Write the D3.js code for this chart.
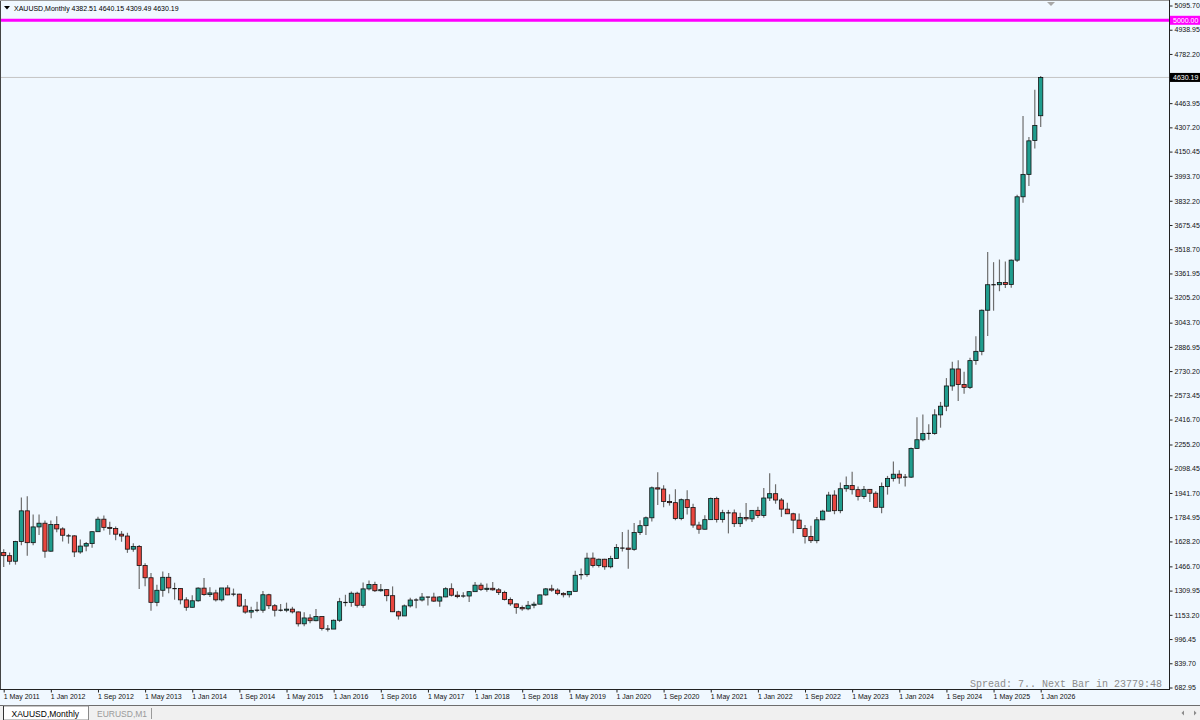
<!DOCTYPE html>
<html>
<head>
<meta charset="utf-8">
<script src="https://cdn.jsdelivr.net/npm/d3@7"></script>
<style>
  html, body { margin: 0; padding: 0; background: #f0f8ff; }
  svg { display: block; }
</style>
</head>
<body>
<div id="chart"></div>
<script>
// monthly XAUUSD bars, May 2011 .. Jan 2026
var months = d3.timeMonth.range(new Date(2011, 4, 1), new Date(2026, 1, 1));

var open = [
  1556,1536,1500,1628,1826,1620,1722,1746,
  1565,1737,1709,1668,1664,1560,1598,1614,1691,1772,1719,1712,
  1675,1663,1578,1596,1472,1393,1234,1312,1396,1327,1323,1250,
  1202,1244,1326,1284,1295,1250,1327,1282,1287,1210,1171,1182,
  1183,1283,1212,1183,1183,1190,1172,1095,1133,1115,1142,1065,
  1061,1118,1238,1233,1293,1215,1321,1350,1309,1316,1277,1173,
  1146,1211,1249,1249,1268,1268,1242,1269,1322,1280,1271,1275,
  1303,1345,1318,1325,1315,1298,1253,1224,1201,1192,1215,1222,
  1282,1321,1313,1292,1283,1305,1409,1413,1520,1472,1513,1464,
  1517,1589,1585,1577,1686,1730,1781,1975,1967,1886,1879,1776,
  1898,1847,1734,1707,1769,1906,1770,1814,1813,1743,1783,1774,
  1829,1796,1909,1937,1896,1837,1807,1766,1711,1660,1633,1768,
  1824,1928,1827,1969,1990,1963,1919,1965,1940,1849,1983,2036,
  2063,2039,2044,2230,2286,2327,2327,2447,2503,2634,2744,2643,
  2625,2798,2858,3124,3289,3289,3303,3290,3448,3858,4003,4222,
  4382.51
];
var high = [
  1577,1556,1632,1913,1921,1803,1803,1764,
  1764,1791,1720,1677,1668,1640,1625,1692,1788,1796,1755,1725,
  1695,1684,1617,1605,1487,1424,1348,1434,1424,1361,1325,1267,
  1280,1332,1392,1331,1315,1326,1345,1323,1290,1255,1205,1238,
  1307,1290,1224,1224,1232,1205,1175,1170,1157,1191,1142,1088,
  1123,1263,1283,1304,1303,1362,1375,1367,1352,1318,1337,1180,
  1220,1264,1261,1295,1270,1296,1274,1331,1357,1306,1299,1307,
  1366,1361,1356,1365,1326,1309,1266,1227,1214,1243,1237,1284,
  1326,1347,1325,1300,1306,1439,1453,1555,1557,1518,1516,1535,
  1611,1689,1704,1748,1765,1789,1984,2075,1992,1933,1966,1906,
  1959,1872,1755,1798,1913,1917,1833,1832,1834,1814,1877,1831,
  1853,1974,2070,1998,1909,1879,1814,1808,1735,1730,1786,1833,
  1949,1959,2009,2048,2079,1983,1987,1966,1953,2009,2052,2146,
  2088,2065,2236,2431,2450,2387,2483,2531,2685,2790,2801,2726,
  2817,2956,3128,3500,3435,3452,3439,3453,3871,4381,4245,4550,
  4640.15
];
var low = [
  1462,1478,1478,1603,1535,1603,1669,1523,
  1562,1687,1627,1614,1527,1548,1564,1587,1690,1698,1672,1635,
  1626,1554,1562,1321,1338,1180,1208,1270,1292,1251,1221,1180,
  1200,1238,1277,1268,1240,1240,1280,1273,1205,1160,1131,1170,
  1167,1191,1142,1175,1170,1162,1077,1080,1098,1111,1052,1046,
  1061,1107,1208,1206,1200,1199,1310,1301,1302,1241,1171,1122,
  1146,1200,1195,1240,1214,1236,1205,1267,1272,1261,1264,1236,
  1303,1307,1303,1309,1282,1246,1211,1160,1180,1183,1196,1221,
  1276,1303,1280,1266,1266,1305,1381,1400,1459,1459,1445,1454,
  1517,1563,1451,1567,1670,1670,1757,1863,1849,1860,1765,1765,
  1802,1717,1677,1705,1767,1750,1750,1680,1721,1722,1758,1753,
  1780,1782,1890,1872,1787,1805,1681,1709,1615,1618,1616,1765,
  1823,1804,1810,1949,1932,1893,1903,1884,1846,1810,1931,2016,
  2001,1984,2039,2228,2277,2286,2318,2364,2471,2603,2537,2583,
  2614,2772,2833,2957,3121,3247,3268,3269,3436,3820,3928,4170,
  4309.49
];
var close = [
  1536,1500,1628,1826,1620,1722,1746,1565,
  1737,1709,1668,1664,1560,1598,1614,1691,1772,1719,1712,1675,
  1663,1578,1596,1472,1393,1234,1312,1396,1327,1323,1250,1202,
  1244,1326,1284,1295,1250,1327,1282,1287,1210,1171,1182,1183,
  1283,1212,1183,1183,1190,1172,1095,1133,1115,1142,1065,1061,
  1118,1238,1233,1293,1215,1321,1350,1309,1316,1277,1173,1146,
  1211,1249,1249,1268,1268,1242,1269,1322,1280,1271,1275,1303,
  1345,1318,1325,1315,1298,1253,1224,1201,1192,1215,1222,1282,
  1321,1313,1292,1283,1305,1409,1413,1520,1472,1513,1464,1517,
  1589,1585,1577,1686,1730,1781,1975,1967,1886,1879,1776,1898,
  1847,1734,1707,1769,1906,1770,1814,1813,1743,1783,1774,1829,
  1796,1909,1937,1896,1837,1807,1766,1711,1660,1633,1768,1824,
  1928,1827,1969,1990,1963,1919,1965,1940,1849,1983,2036,2063,
  2039,2044,2230,2286,2327,2327,2447,2503,2634,2744,2643,2625,
  2798,2858,3124,3289,3289,3303,3290,3448,3858,4003,4220,4320,
  4630.19
];

var yTicks = [5095.70, 4938.95, 4782.20, 4463.95, 4307.20, 4150.45, 3993.70, 3832.20,
  3675.45, 3518.70, 3361.95, 3205.20, 3043.70, 2886.95, 2730.20, 2573.45, 2416.70,
  2255.20, 2098.45, 1941.70, 1784.95, 1628.20, 1466.70, 1309.95, 1153.20, 996.45,
  839.70, 682.95];
var xTickLabels = ["1 May 2011", "1 Jan 2012", "1 Sep 2012", "1 May 2013", "1 Jan 2014",
  "1 Sep 2014", "1 May 2015", "1 Jan 2016", "1 Sep 2016", "1 May 2017", "1 Jan 2018",
  "1 Sep 2018", "1 May 2019", "1 Jan 2020", "1 Sep 2020", "1 May 2021", "1 Jan 2022",
  "1 Sep 2022", "1 May 2023", "1 Jan 2024", "1 Sep 2024", "1 May 2025", "1 Jan 2026"];
var levelLine = 5000.00;
var lastPrice = 4630.19;

var W = 1200, H = 720;
var plotR = 1169, plotB = 689;
var font = "'Liberation Sans', Arial, sans-serif";

var svg = d3.select("#chart").append("svg")
    .attr("width", W)
    .attr("height", H);

svg.append("rect").attr("width", W).attr("height", H).attr("fill", "#f0f8ff");

var x = d3.scaleLinear().domain([0, months.length - 1]).range([3.7, 1040.7]);
var y = d3.scaleLinear().domain([682.95, 5095.70]).range([687.5, 5.5]);

svg.append("clipPath").attr("id", "plotclip")
  .append("rect").attr("x", 1).attr("y", 1).attr("width", plotR - 1).attr("height", plotB - 1);

var plot = svg.append("g").attr("clip-path", "url(#plotclip)");

// price lines
plot.append("line")
    .attr("x1", 0).attr("x2", plotR)
    .attr("y1", y(lastPrice)).attr("y2", y(lastPrice))
    .attr("stroke", "#c4c4c4").attr("stroke-width", 1);
plot.append("line")
    .attr("x1", 0).attr("x2", plotR)
    .attr("y1", y(levelLine)).attr("y2", y(levelLine))
    .attr("stroke", "#ff00ff").attr("stroke-width", 3);

// candles
var bars = months.map(function (m, i) {
    return {i: i, o: open[i], h: high[i], l: low[i], c: close[i]};
});

var g = plot.selectAll("g.bar").data(bars).enter().append("g").attr("class", "bar");

g.append("line")
    .attr("x1", function (d) { return x(d.i); })
    .attr("x2", function (d) { return x(d.i); })
    .attr("y1", function (d) { return y(d.h); })
    .attr("y2", function (d) { return y(d.l); })
    .attr("stroke", "#6e6e6e")
    .attr("stroke-width", 1.2);

g.filter(function (d) { return Math.abs(y(d.o) - y(d.c)) >= 1; })
  .append("rect")
    .attr("x", function (d) { return x(d.i) - 2.1; })
    .attr("width", 4.2)
    .attr("y", function (d) { return y(Math.max(d.o, d.c)); })
    .attr("height", function (d) { return Math.abs(y(d.o) - y(d.c)); })
    .attr("fill", function (d) { return d.c >= d.o ? "#1f9d8e" : "#e9463f"; })
    .attr("stroke", "#111")
    .attr("stroke-width", 0.8);

g.filter(function (d) { return Math.abs(y(d.o) - y(d.c)) < 1; })
  .append("line")
    .attr("x1", function (d) { return x(d.i) - 2.2; })
    .attr("x2", function (d) { return x(d.i) + 2.2; })
    .attr("y1", function (d) { return y(d.c); })
    .attr("y2", function (d) { return y(d.c); })
    .attr("stroke", "#111")
    .attr("stroke-width", 1.2);

// frame
svg.append("line").attr("x1", plotR + 0.5).attr("x2", plotR + 0.5).attr("y1", 0).attr("y2", plotB)
    .attr("stroke", "#222").attr("stroke-width", 1);
svg.append("line").attr("x1", 0).attr("x2", plotR + 1).attr("y1", plotB + 0.5).attr("y2", plotB + 0.5)
    .attr("stroke", "#222").attr("stroke-width", 1);
svg.append("line").attr("x1", 0.5).attr("x2", 0.5).attr("y1", 0).attr("y2", plotB)
    .attr("stroke", "#444").attr("stroke-width", 1);
svg.append("line").attr("x1", 0).attr("x2", plotR).attr("y1", 0.5).attr("y2", 0.5)
    .attr("stroke", "#9a9a9a").attr("stroke-width", 1);

// y axis
var yAxis = svg.append("g")
    .attr("transform", "translate(" + (plotR + 0.5) + ",0)")
    .call(d3.axisRight(y).tickValues(yTicks).tickFormat(d3.format(".2f")).tickSize(3).tickPadding(2));
yAxis.select(".domain").remove();
yAxis.selectAll("line").attr("stroke", "#222");
yAxis.selectAll("text").attr("font-family", font).attr("font-size", 7).attr("fill", "#111");

// x axis
var xAxis = svg.append("g")
    .attr("transform", "translate(0," + (plotB + 0.5) + ")")
    .call(d3.axisBottom(x)
        .tickValues(d3.range(0, months.length, 8))
        .tickFormat(function (d, i) { return xTickLabels[i]; })
        .tickSize(3).tickPadding(2));
xAxis.select(".domain").remove();
xAxis.selectAll("line").attr("stroke", "#222");
xAxis.selectAll("text")
    .attr("text-anchor", "start")
    .attr("dx", -0.5)
    .attr("font-family", font).attr("font-size", 7).attr("fill", "#111");

// axis price labels
function priceTag(v, bg) {
    svg.append("rect")
        .attr("x", plotR + 1).attr("y", y(v) - 4.5)
        .attr("width", W - plotR - 1).attr("height", 9)
        .attr("fill", bg);
    svg.append("text")
        .attr("x", plotR + 4).attr("y", y(v))
        .attr("dy", "0.35em")
        .attr("font-family", font).attr("font-size", 7)
        .attr("fill", "#fff")
        .text(d3.format(".2f")(v));
}
priceTag(levelLine, "#ff00ff");
priceTag(lastPrice, "#000");

// header
svg.append("path").attr("d", "M4,6 L10,6 L7,9.5 Z").attr("fill", "#000");
svg.append("text")
    .attr("x", 14).attr("y", 10.5)
    .attr("font-family", font).attr("font-size", 7).attr("fill", "#000")
    .text("XAUUSD,Monthly  " + [open[open.length - 1], high[high.length - 1], low[low.length - 1], close[close.length - 1]].map(d3.format(".2f")).join(" "));

// shift marker
svg.append("path").attr("d", "M1047,2 L1055,2 L1051,6 Z").attr("fill", "#a8a8a8");

// spread text
svg.append("text")
    .attr("x", 1162).attr("y", 686.5)
    .attr("text-anchor", "end")
    .attr("font-family", "'Liberation Mono', 'Courier New', monospace")
    .attr("font-size", 10).attr("fill", "#8c8c8c")
    .text("Spread: 7.. Next Bar in 23779:48");

// tab bar
svg.append("rect").attr("x", 0).attr("y", 705).attr("width", W).attr("height", 15).attr("fill", "#f0f0f0");
svg.append("line").attr("x1", 0).attr("x2", W).attr("y1", 705.5).attr("y2", 705.5).attr("stroke", "#6d6d6d");
svg.append("rect").attr("x", 3.5).attr("y", 706).attr("width", 85).attr("height", 14)
    .attr("fill", "#fff").attr("stroke", "#8a8a8a").attr("stroke-width", 1);
svg.append("line").attr("x1", 3.5).attr("x2", 3.5).attr("y1", 706).attr("y2", 720).attr("stroke", "#333");
svg.append("text").attr("x", 11.5).attr("y", 716.5)
    .attr("font-family", font).attr("font-size", 8.5).attr("fill", "#000").text("XAUUSD,Monthly");
svg.append("text").attr("x", 97).attr("y", 716.5)
    .attr("font-family", font).attr("font-size", 8.5).attr("fill", "#9a9a9a").text("EURUSD,M1");
svg.append("line").attr("x1", 151.5).attr("x2", 151.5).attr("y1", 708).attr("y2", 719).attr("stroke", "#9a9a9a");
svg.append("path").attr("d", "M1184,710.5 L1184,715.5 L1181.5,713 Z").attr("fill", "#8a8a8a");
svg.append("path").attr("d", "M1194,710.5 L1194,715.5 L1196.5,713 Z").attr("fill", "#8a8a8a");
</script>
</body>
</html>
